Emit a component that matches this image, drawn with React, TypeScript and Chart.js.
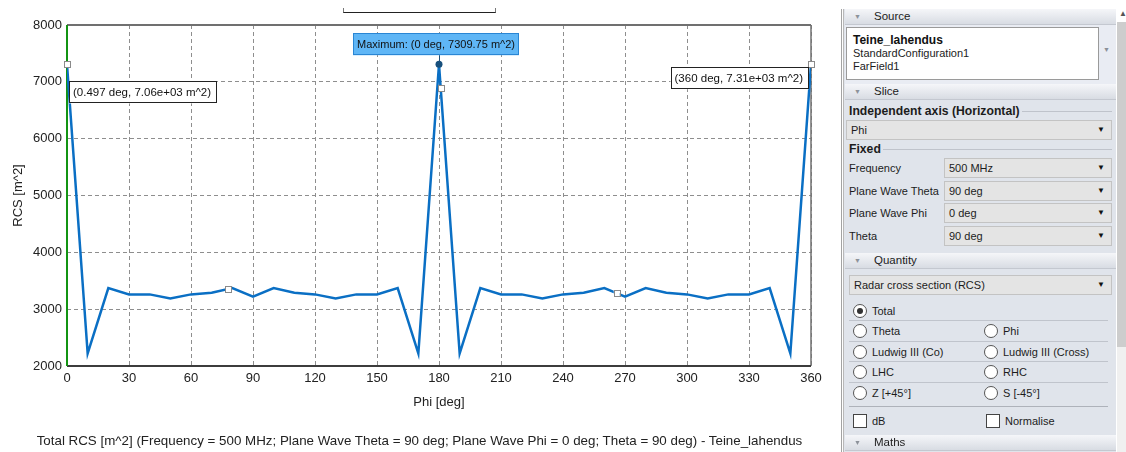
import React, { useEffect, useRef } from "react";
import { Chart, registerables } from "chart.js";

Chart.register(...registerables);

// ---------------- data ----------------
const phiDeg = [0, 10, 20, 30, 40, 50, 60, 70, 80, 90, 100, 110, 120, 130, 140, 150, 160, 170, 180, 190, 200, 210, 220, 230, 240, 250, 260, 270, 280, 290, 300, 310, 320, 330, 340, 350, 360];
const rcsTotal = [7310, 2220, 3370, 3260, 3260, 3190, 3260, 3290, 3370, 3220, 3370, 3290, 3260, 3190, 3260, 3260, 3370, 2220, 7310, 2220, 3370, 3260, 3260, 3190, 3260, 3290, 3370, 3220, 3370, 3290, 3260, 3190, 3260, 3260, 3370, 2220, 7310];

const markerPhi = [0, 78, 181, 266, 360];
const markerRcs = [7310, 3354, 6890, 3280, 7310];

const maxPhi = 180;
const maxRcs = 7309.75;
const maxLabel = "Maximum: (0 deg, 7309.75 m^2)";

const leftCursorPhi = 0.497;
const leftCursorRcs = 7060;
const leftCursorLabel = "(0.497 deg, 7.06e+03 m^2)";

const rightCursorPhi = 360;
const rightCursorRcs = 7310;
const rightCursorLabel = "(360 deg, 7.31e+03 m^2)";

const xMin = 0, xMax = 360, xStep = 30;
const yMin = 2000, yMax = 8000, yStep = 1000;
const xTitle = "Phi [deg]";
const yTitle = "RCS [m^2]";
const caption = "Total RCS [m^2] (Frequency = 500 MHz; Plane Wave Theta = 90 deg; Plane Wave Phi = 0 deg; Theta = 90 deg) - Teine_lahendus";

const FONT = '"Liberation Sans", Arial, sans-serif';

function drawBox(ctx: CanvasRenderingContext2D, x: number, y: number, w: number, h: number, text: string, fill: string, stroke: string) {
  ctx.fillStyle = fill;
  ctx.fillRect(x, y, w, h);
  ctx.strokeStyle = stroke;
  ctx.lineWidth = 1;
  ctx.strokeRect(Math.round(x) + 0.5, Math.round(y) + 0.5, Math.round(w) - 1, Math.round(h) - 1);
  ctx.fillStyle = "#111";
  ctx.textBaseline = "middle";
  ctx.textAlign = "left";
  ctx.fillText(text, x + 4, y + h / 2 + 0.5);
}

const framePlugin = {
  id: "frame",
  beforeDatasetsDraw(chart: any) {
    const { ctx, chartArea } = chart;
    const { left, right, top, bottom } = chartArea;
    ctx.save();
    ctx.strokeStyle = "#707070";
    ctx.lineWidth = 2;
    ctx.beginPath();
    ctx.moveTo(left, top);
    ctx.lineTo(right, top);
    ctx.stroke();
    ctx.lineWidth = 1.5;
    ctx.beginPath();
    ctx.moveTo(right, top);
    ctx.lineTo(right, bottom);
    ctx.stroke();
    ctx.strokeStyle = "#3c3c3c";
    ctx.lineWidth = 2;
    ctx.beginPath();
    ctx.moveTo(left, bottom);
    ctx.lineTo(right, bottom);
    ctx.stroke();
    ctx.strokeStyle = "#139413";
    ctx.lineWidth = 2;
    ctx.beginPath();
    ctx.moveTo(left, top);
    ctx.lineTo(left, bottom);
    ctx.stroke();
    ctx.restore();
  },
  afterDatasetsDraw(chart: any) {
    const { ctx } = chart;
    const xs = chart.scales.x;
    const ys = chart.scales.y;
    ctx.save();
    // square markers
    for (let i = 0; i < markerPhi.length; i++) {
      const px = xs.getPixelForValue(markerPhi[i]);
      const py = ys.getPixelForValue(markerRcs[i]);
      ctx.fillStyle = "#ffffff";
      ctx.fillRect(px - 3, py - 3, 6, 6);
      ctx.strokeStyle = "#8a8a8a";
      ctx.lineWidth = 1;
      ctx.strokeRect(Math.round(px - 3) + 0.5, Math.round(py - 3) + 0.5, 6, 6);
    }
    // maximum marker
    ctx.font = `11px ${FONT}`;
    const mx = xs.getPixelForValue(maxPhi);
    const my = ys.getPixelForValue(maxRcs);
    const mw = ctx.measureText(maxLabel).width + 8;
    const mh = 22;
    const mbx = mx - 3 - mw / 2;
    const mby = my - 9 - mh;
    ctx.strokeStyle = "#1d4f78";
    ctx.lineWidth = 1;
    ctx.beginPath();
    ctx.moveTo(Math.round(mx) + 0.5, mby + mh);
    ctx.lineTo(Math.round(mx) + 0.5, my);
    ctx.stroke();
    ctx.fillStyle = "#174f7c";
    ctx.beginPath();
    ctx.arc(mx, my, 3.5, 0, Math.PI * 2);
    ctx.fill();
    drawBox(ctx, mbx, mby, mw, mh, maxLabel, "#5fb6f6", "#2a86d4");
    // cursor labels
    ctx.font = `11.5px ${FONT}`;
    const lx = xs.getPixelForValue(leftCursorPhi);
    const ly = ys.getPixelForValue(leftCursorRcs);
    const lw = ctx.measureText(leftCursorLabel).width + 10;
    drawBox(ctx, lx + 1, ly + 3, lw, 22, leftCursorLabel, "#ffffff", "#222222");
    const rx = xs.getPixelForValue(rightCursorPhi);
    const ry = ys.getPixelForValue(rightCursorRcs);
    const rw = ctx.measureText(rightCursorLabel).width + 10;
    drawBox(ctx, rx - 2 - rw, ry + 3, rw, 22, rightCursorLabel, "#ffffff", "#222222");
    ctx.restore();
  },
};

function RcsChart() {
  const ref = useRef<HTMLCanvasElement | null>(null);
  useEffect(() => {
    if (!ref.current) return;
    const chart = new Chart(ref.current, {
      type: "line",
      data: {
        datasets: [
          {
            label: "Total RCS",
            data: phiDeg.map((p, i) => ({ x: p, y: rcsTotal[i] })),
            borderColor: "#0a6fc4",
            borderWidth: 2.5,
            pointRadius: 0,
            tension: 0,
            fill: false,
          },
        ],
      },
      options: {
        animation: false,
        responsive: true,
        maintainAspectRatio: false,
        layout: { padding: { top: 25, right: 19, bottom: 30, left: 0 } },
        plugins: {
          legend: { display: false },
          tooltip: { enabled: false },
          title: { display: false },
        },
        scales: {
          x: {
            type: "linear",
            min: xMin,
            max: xMax,
            afterFit: (s: any) => { s.height = 56; },
            ticks: {
              stepSize: xStep,
              color: "#222",
              font: { family: FONT, size: 13 },
              padding: 5,
              maxRotation: 0,
              callback: (v: any) => String(v),
            },
            grid: { color: "#8e8e8e", lineWidth: 1, drawTicks: false },
            border: { display: false, dash: [4, 3] },
            title: {
              display: true,
              text: xTitle,
              color: "#222",
              font: { family: FONT, size: 13 },
              padding: { top: 0, bottom: 12 },
            },
          },
          y: {
            type: "linear",
            min: yMin,
            max: yMax,
            afterFit: (s: any) => { s.width = 67; },
            ticks: {
              stepSize: yStep,
              color: "#222",
              font: { family: FONT, size: 13 },
              padding: 5,
              callback: (v: any) => String(v),
            },
            grid: { color: "#8e8e8e", lineWidth: 1, drawTicks: false },
            border: { display: false, dash: [4, 3] },
            title: {
              display: true,
              text: yTitle,
              color: "#222",
              font: { family: FONT, size: 13 },
              padding: { top: 11, bottom: 0 },
            },
          },
        },
      } as any,
      plugins: [framePlugin],
    });
    return () => chart.destroy();
  }, []);
  return (
    <div style={{ position: "absolute", left: 0, top: 0, width: 830, height: 452 }}>
      <canvas ref={ref} />
    </div>
  );
}

// ---------------- side panel ----------------
const PANEL_BG = "#e0e4eb";
const TXT = "#1c1c1c";
const PF = 11;

function Header({ top, label }: { top: number; label: string }) {
  return (
    <div style={{ position: "absolute", left: 845, top, width: 271, height: 16, boxSizing: "border-box", background: "linear-gradient(#f5f6f9, #d8dce3)", borderBottom: "1px solid #c4c8d0" }}>
      <span style={{ position: "absolute", left: 9, top: 4, fontSize: 7, lineHeight: "7px", color: "#8d929a" }}>▼</span>
      <span style={{ position: "absolute", left: 29, top: 0, fontSize: 11.5, lineHeight: "15px", color: TXT }}>{label}</span>
    </div>
  );
}

function Dropdown({ left, top, width, height = 20, text }: { left: number; top: number; width: number; height?: number; text: string }) {
  return (
    <div style={{ position: "absolute", left, top, width, height, boxSizing: "border-box", background: "#e4e4e4", border: "1px solid #c3c3c3" }}>
      <span style={{ position: "absolute", left: 4, top: 0, lineHeight: `${height - 2}px`, fontSize: PF, color: TXT, whiteSpace: "nowrap" }}>{text}</span>
      <span style={{ position: "absolute", right: 6, top: 0, lineHeight: `${height - 2}px`, fontSize: 8, color: "#111" }}>▼</span>
    </div>
  );
}

function Label({ left, top, text }: { left: number; top: number; text: string }) {
  return (
    <span style={{ position: "absolute", left, top, fontSize: PF, lineHeight: "14px", color: TXT, whiteSpace: "nowrap" }}>{text}</span>
  );
}

function GroupTitle({ top, text }: { top: number; text: string }) {
  return (
    <div style={{ position: "absolute", left: 849, top, width: 263, height: 14, display: "flex", alignItems: "center" }}>
      <span style={{ fontSize: 12.2, fontWeight: 700, lineHeight: "14px", color: TXT, whiteSpace: "nowrap" }}>{text}</span>
      <div style={{ flex: 1, height: 1, background: "#bfc3cb", marginLeft: 2 }} />
    </div>
  );
}

function Radio({ left, cy, label, checked }: { left: number; cy: number; label: string; checked?: boolean }) {
  return (
    <>
      <div style={{ position: "absolute", left, top: cy - 7, width: 14, height: 14, boxSizing: "border-box", borderRadius: "50%", border: "1px solid #555", background: "#fff" }}>
        {checked && <div style={{ position: "absolute", left: 3, top: 3, width: 6, height: 6, borderRadius: "50%", background: "#333" }} />}
      </div>
      <span style={{ position: "absolute", left: left + 19, top: cy - 7, fontSize: PF, lineHeight: "14px", color: TXT, whiteSpace: "nowrap" }}>{label}</span>
    </>
  );
}

function Check({ left, cy, label }: { left: number; cy: number; label: string }) {
  return (
    <>
      <div style={{ position: "absolute", left, top: cy - 7, width: 14, height: 14, boxSizing: "border-box", border: "1px solid #444", background: "#fff" }} />
      <span style={{ position: "absolute", left: left + 19, top: cy - 7, fontSize: PF, lineHeight: "14px", color: TXT }}>{label}</span>
    </>
  );
}

function Sep({ top, dark }: { top: number; dark?: boolean }) {
  return <div style={{ position: "absolute", left: 849, top, width: 259, height: 1, background: dark ? "#aeb2ba" : "#c0c4cc" }} />;
}

function Panel() {
  const rows = [
    { label: "Frequency", value: "500 MHz", top: 158 },
    { label: "Plane Wave Theta", value: "90 deg", top: 181 },
    { label: "Plane Wave Phi", value: "0 deg", top: 203 },
    { label: "Theta", value: "90 deg", top: 226 },
  ];
  return (
    <>
      <div style={{ position: "absolute", left: 841, top: 9, width: 1, height: 443, background: "#a3a3a3" }} />
      <div style={{ position: "absolute", left: 843, top: 9, width: 1, height: 443, background: "#b8b8b8" }} />
      <div style={{ position: "absolute", left: 844, top: 9, width: 272, height: 443, background: PANEL_BG }} />
      <div style={{ position: "absolute", left: 845, top: 25, width: 271, height: 59, background: "#e9ecf3" }} />
      {/* scrollbar */}
      <div style={{ position: "absolute", left: 1117, top: 22, width: 9, height: 325, background: "#cdcdcd" }} />
      <div style={{ position: "absolute", left: 1117, top: 347, width: 9, height: 105, background: "#f0f0f0" }} />
      <span style={{ position: "absolute", left: 1119, top: 9, fontSize: 8, lineHeight: "10px", color: "#555" }}>▲</span>

      <Header top={9} label="Source" />
      <div style={{ position: "absolute", left: 846, top: 27, width: 253, height: 53, boxSizing: "border-box", background: "#fff", border: "1px solid #9a9a9a" }}>
        <span style={{ position: "absolute", left: 6, top: 5, fontSize: 12, fontWeight: 700, lineHeight: "14px", color: "#111" }}>Teine_lahendus</span>
        <span style={{ position: "absolute", left: 6, top: 19, fontSize: 11, lineHeight: "13px", color: TXT }}>StandardConfiguration1</span>
        <span style={{ position: "absolute", left: 6, top: 32, fontSize: 11, lineHeight: "13px", color: TXT }}>FarField1</span>
      </div>
      <span style={{ position: "absolute", left: 1103, top: 46, fontSize: 7, lineHeight: "8px", color: "#8a8f98" }}>▼</span>

      <Header top={84} label="Slice" />
      <GroupTitle top={104} text="Independent axis (Horizontal)" />
      <Dropdown left={846} top={120} width={266} height={20} text="Phi" />
      <GroupTitle top={142} text="Fixed" />
      {rows.map((r) => (
        <React.Fragment key={r.label}>
          <Label left={849} top={r.top + 3} text={r.label} />
          <Dropdown left={944} top={r.top} width={168} height={20} text={r.value} />
        </React.Fragment>
      ))}

      <Header top={253} label="Quantity" />
      <Dropdown left={849} top={275} width={263} height={20} text="Radar cross section (RCS)" />
      <Radio left={853} cy={311} label="Total" checked />
      <Sep top={320} />
      <Radio left={853} cy={331} label="Theta" />
      <Radio left={984} cy={331} label="Phi" />
      <Sep top={341} />
      <Radio left={853} cy={352} label="Ludwig III (Co)" />
      <Radio left={984} cy={352} label="Ludwig III (Cross)" />
      <Sep top={361} />
      <Radio left={853} cy={372} label="LHC" />
      <Radio left={984} cy={372} label="RHC" />
      <Sep top={382} />
      <Radio left={853} cy={393} label="Z [+45°]" />
      <Radio left={984} cy={393} label="S [-45°]" />
      <Sep top={406} dark />
      <Check left={853} cy={421} label="dB" />
      <Check left={986} cy={421} label="Normalise" />
      <Header top={435} label="Maths" />
    </>
  );
}

export default function App() {
  return (
    <div style={{ position: "fixed", left: 0, top: 0, width: 1126, height: 452, background: "#ffffff", overflow: "hidden", fontFamily: FONT }}>
      <RcsChart />
      <div style={{ position: "absolute", left: 343, top: 8, width: 153, height: 5, boxSizing: "border-box", borderLeft: "1px solid #777", borderRight: "1px solid #777", borderBottom: "1px solid #222" }} />
      <div style={{ position: "absolute", left: 0, top: 433, width: 839, height: 16, lineHeight: "16px", textAlign: "center", fontSize: 13.35, color: "#222", whiteSpace: "nowrap" }}>{caption}</div>
      <Panel />
    </div>
  );
}
